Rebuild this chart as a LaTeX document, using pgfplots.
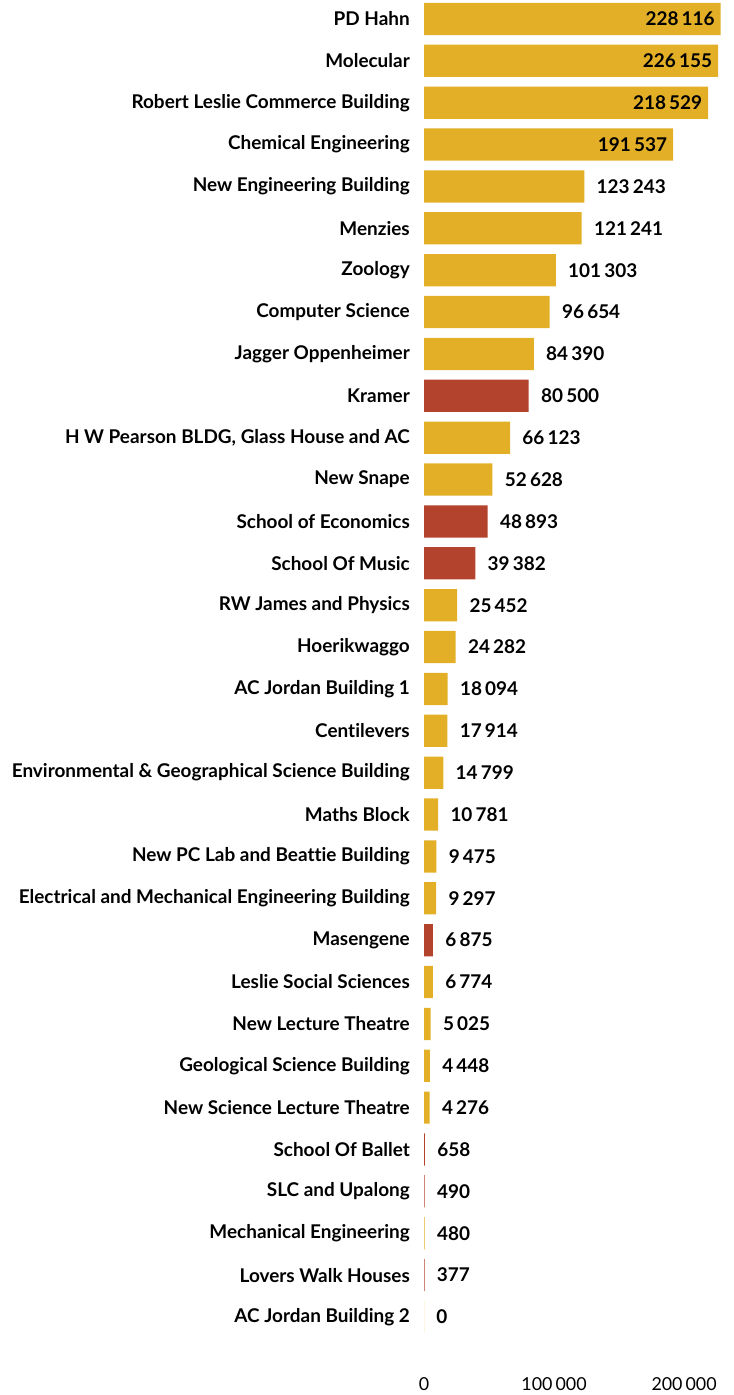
\documentclass[border=0pt]{standalone}
\usepackage{pgfplots}
\pgfplotsset{compat=1.18}
\usepackage{fontspec}
\setmainfont{Lato}[Ligatures=NoCommon]
\definecolor{gold}{RGB}{227,175,38}
\definecolor{rust}{RGB}{180,67,45}

\begin{document}
\begin{tikzpicture}
\begin{axis}[
    scale only axis,
    width=224.25pt, height=1033pt,
    xbar, bar shift=0pt, bar width=0.77,
    y dir=reverse,
    xmin=0, xmax=230000, ymin=-0.45, ymax=32.45,
    clip=false,
    axis line style={draw=none},
    major tick length=0pt, tick style={draw=none},
    xtick={0,100000,200000},
    xticklabels={0,100\,000,200\,000},
    xticklabel style={inner sep=0pt, anchor=north, text depth=0pt,
      font=\fontsize{13.4}{15}\selectfont},
    ytick={0,...,31},
    yticklabels={PD Hahn, Molecular, Robert Leslie Commerce Building, Chemical Engineering,
      New Engineering Building, Menzies, Zoology, Computer Science, Jagger Oppenheimer,
      Kramer, {H W Pearson BLDG, Glass House and AC}, New Snape, School of Economics,
      School Of Music, RW James and Physics, Hoerikwaggo, AC Jordan Building 1,
      Centilevers, Environmental \& Geographical Science Building, Maths Block,
      New PC Lab and Beattie Building, Electrical and Mechanical Engineering Building,
      Masengene, Leslie Social Sciences, New Lecture Theatre, Geological Science Building,
      New Science Lecture Theatre, School Of Ballet, SLC and Upalong,
      Mechanical Engineering, Lovers Walk Houses, AC Jordan Building 2},
    yticklabel style={inner sep=0pt, anchor=east, xshift=-10.5pt,
      font=\fontsize{14.2}{16}\selectfont\bfseries},
    point meta=explicit symbolic,
    nodes near coords,
    every node near coord/.append style={font=\fontsize{14.2}{16}\selectfont\bfseries,
      text=black, anchor=west, xshift=5.8pt},
]
% top four: labels inside the bars
\addplot[fill=gold, draw=none,
    every node near coord/.append style={anchor=east, xshift=-6.8pt}] coordinates {
  (228116,0) [228\,116]
  (226155,1) [226\,155]
  (218529,2) [218\,529]
  (191537,3) [191\,537]
};
\addplot[fill=gold, draw=none] coordinates {
  (123243,4) [123\,243]
  (121241,5) [121\,241]
  (101303,6) [101\,303]
  (96654,7) [96\,654]
  (84390,8) [84\,390]
  (66123,10) [66\,123]
  (52628,11) [52\,628]
  (25452,14) [25\,452]
  (24282,15) [24\,282]
  (18094,16) [18\,094]
  (17914,17) [17\,914]
  (14799,18) [14\,799]
  (10781,19) [10\,781]
  (9475,20) [9\,475]
  (9297,21) [9\,297]
  (6774,23) [6\,774]
  (5025,24) [5\,025]
  (4448,25) [4\,448]
  (4276,26) [4\,276]
  (480,29) [480]
  (0,31) [0]
};
\addplot[fill=rust, draw=none] coordinates {
  (80500,9) [80\,500]
  (48893,12) [48\,893]
  (39382,13) [39\,382]
  (6875,22) [6\,875]
  (658,27) [658]
  (490,28) [490]
  (377,30) [377]
};
\coordinate (bbsw) at (axis cs:-326154,32.864);
\coordinate (bbne) at (axis cs:237692,-0.4538);
\end{axis}
\pgfresetboundingbox
\useasboundingbox (bbsw) rectangle (bbne);
\end{tikzpicture}
\end{document}
